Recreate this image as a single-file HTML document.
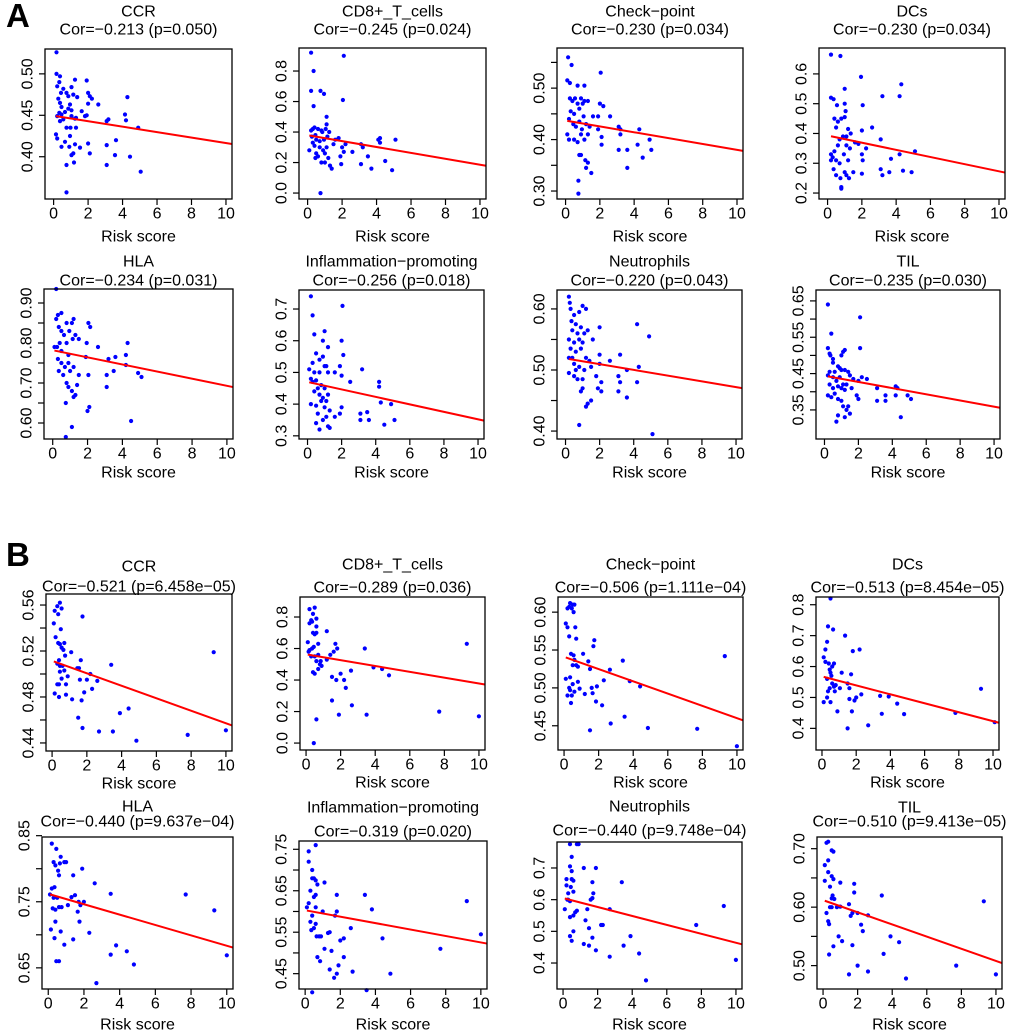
<!DOCTYPE html>
<html><head><meta charset="utf-8"><style>
html,body{margin:0;padding:0;background:#fff;}
svg{display:block;font-family:"Liberation Sans",Arial,sans-serif;}
</style></head>
<body>
<svg id="fig" width="1020" height="1035" viewBox="0 0 1020 1035" xmlns="http://www.w3.org/2000/svg">
<rect x="0" y="0" width="1020" height="1035" fill="#fff"/>
<text x="6" y="27" font-size="33" font-weight="bold">A</text>
<text x="6" y="566" font-size="33" font-weight="bold">B</text>
</svg>
<script>
// ---- data ----
const titles = ["CCR","CD8+_T_cells","Check−point","DCs","HLA","Inflammation−promoting","Neutrophils","TIL",
                "CCR","CD8+_T_cells","Check−point","DCs","HLA","Inflammation−promoting","Neutrophils","TIL"];
const corLabels = ["Cor=−0.213 (p=0.050)","Cor=−0.245 (p=0.024)","Cor=−0.230 (p=0.034)","Cor=−0.230 (p=0.034)",
  "Cor=−0.234 (p=0.031)","Cor=−0.256 (p=0.018)","Cor=−0.220 (p=0.043)","Cor=−0.235 (p=0.030)",
  "Cor=−0.521 (p=6.458e−05)","Cor=−0.289 (p=0.036)","Cor=−0.506 (p=1.111e−04)","Cor=−0.513 (p=8.454e−05)",
  "Cor=−0.440 (p=9.637e−04)","Cor=−0.319 (p=0.020)","Cor=−0.440 (p=9.748e−04)","Cor=−0.510 (p=9.413e−05)"];
const fitIntercept = [0.4495,0.379,0.437,0.393,0.782,0.470,0.519,0.444, 0.5115,0.563,0.541,0.568,0.762,0.603,0.605,0.612];
const fitSlope = [-0.0033,-0.0193,-0.0057,-0.0120,-0.0089,-0.0118,-0.0047,-0.0085, -0.00544,-0.0185,-0.00809,-0.01447,-0.00786,-0.00777,-0.0141,-0.0104];
const xTicks = [0,2,4,6,8,10];
const yTicks = [[0.40,0.45,0.50],[0,0.2,0.4,0.6,0.8],[0.30,0.35,0.40,0.45,0.50,0.55],[0.2,0.3,0.4,0.5,0.6],
  [0.60,0.65,0.70,0.75,0.80,0.85,0.90],[0.3,0.4,0.5,0.6,0.7],[0.40,0.45,0.50,0.55,0.60],[0.35,0.40,0.45,0.50,0.55,0.60,0.65],
  [0.44,0.46,0.48,0.50,0.52,0.54,0.56],[0,0.2,0.4,0.6,0.8],[0.45,0.50,0.55,0.60],[0.4,0.5,0.6,0.7,0.8],
  [0.65,0.70,0.75,0.80,0.85],[0.45,0.50,0.55,0.60,0.65,0.70,0.75],[0.4,0.5,0.6,0.7],[0.50,0.55,0.60,0.65,0.70]];
const yTickLabels = [["0.40","0.45","0.50"],["0.0","0.2","0.4","0.6","0.8"],["0.30","","0.40","","0.50",""],["0.2","0.3","0.4","0.5","0.6"],
  ["0.60","","0.70","","0.80","","0.90"],["0.3","0.4","0.5","0.6","0.7"],["0.40","","0.50","","0.60"],["0.35","","0.45","","0.55","","0.65"],
  ["0.44","","0.48","","0.52","","0.56"],["0.0","0.2","0.4","0.6","0.8"],["0.45","0.50","0.55","0.60"],["0.4","0.5","0.6","0.7","0.8"],
  ["0.65","","0.75","","0.85"],["0.45","","0.55","","0.65","","0.75"],["0.4","0.5","0.6","0.7"],["0.50","","0.60","","0.70"]];

const ptsA_CCR = [[0.17,0.526],[0.17,0.50],[0.37,0.497],[0.33,0.49],[0.21,0.485],[0.56,0.482],[0.43,0.477],[0.27,0.47],[0.37,0.465],[0.46,0.46],[0.33,0.453],[0.21,0.449],[0.46,0.451],[0.37,0.443],[0.56,0.445],[0.14,0.427],[0.21,0.422],[0.46,0.412],[0.75,0.435],[0.66,0.418],[0.75,0.39],[0.75,0.357],[0.85,0.458],[0.95,0.463],[0.85,0.473],[0.75,0.477],[1.04,0.484],[1.24,0.493],[1.14,0.475],[1.04,0.449],[0.98,0.435],[0.95,0.425],[0.91,0.412],[1.04,0.402],[1.14,0.404],[1.18,0.393],[1.24,0.415],[1.3,0.435],[1.3,0.447],[1.37,0.472],[1.53,0.411],[1.63,0.455],[1.82,0.449],[1.92,0.492],[2.0,0.477],[2.1,0.473],[2.22,0.47],[2.0,0.416],[2.1,0.404],[2.0,0.464],[2.59,0.463],[3.08,0.443],[3.18,0.445],[3.08,0.414],[3.08,0.39],[3.56,0.402],[3.62,0.42],[4.14,0.451],[4.2,0.444],[4.28,0.472],[4.43,0.40],[4.91,0.435],[5.05,0.382],[1.92,0.45],[1.24,0.446],[0.66,0.454],[1.04,0.456]];
const ptsA_CD8 = [[0.2,0.92],[0.35,0.80],[0.2,0.67],[0.75,0.67],[0.95,0.65],[0.35,0.57],[2.1,0.9],[2.05,0.61],[1.1,0.5],[0.1,0.28],[0.2,0.41],[0.3,0.42],[0.4,0.43],[0.45,0.38],[0.5,0.35],[0.3,0.33],[0.4,0.31],[0.5,0.26],[0.45,0.23],[0.6,0.24],[0.7,0.3],[0.8,0.2],[0.9,0.28],[0.85,0.4],[0.95,0.35],[1.0,0.26],[1.05,0.42],[1.1,0.45],[1.15,0.37],[1.1,0.3],[1.2,0.23],[1.0,0.2],[1.3,0.18],[1.4,0.16],[1.5,0.32],[1.25,0.4],[1.6,0.35],[1.8,0.36],[1.9,0.24],[1.95,0.19],[2.0,0.3],[2.1,0.27],[2.2,0.32],[2.6,0.27],[3.1,0.32],[3.2,0.3],[3.1,0.19],[3.5,0.24],[3.7,0.16],[4.1,0.35],[4.2,0.33],[4.2,0.36],[4.5,0.21],[4.9,0.15],[5.1,0.35],[0.75,0.0],[0.6,0.42],[0.7,0.34],[0.25,0.37],[0.8,0.41]];
const ptsA_Check = [[0.15,0.56],[0.35,0.545],[0.1,0.515],[0.25,0.51],[0.7,0.505],[1.1,0.505],[2.05,0.53],[0.25,0.48],[0.4,0.475],[0.55,0.48],[0.7,0.47],[0.9,0.48],[1.1,0.475],[1.3,0.475],[2.0,0.47],[2.2,0.465],[0.3,0.455],[0.5,0.45],[0.8,0.46],[1.0,0.47],[1.05,0.445],[1.6,0.445],[1.9,0.445],[2.6,0.445],[0.2,0.44],[0.45,0.43],[0.6,0.425],[0.8,0.435],[0.95,0.42],[1.2,0.43],[1.4,0.425],[1.9,0.42],[0.1,0.41],[0.2,0.4],[0.5,0.4],[0.7,0.395],[0.9,0.41],[1.1,0.4],[1.3,0.41],[2.1,0.39],[2.1,0.405],[0.8,0.37],[0.9,0.37],[1.15,0.36],[1.3,0.355],[1.5,0.335],[0.75,0.32],[0.75,0.295],[3.1,0.425],[3.2,0.42],[3.2,0.41],[3.1,0.38],[3.6,0.38],[3.6,0.345],[4.2,0.39],[4.3,0.42],[4.5,0.365],[4.9,0.4],[5.0,0.38],[1.2,0.345]];
const ptsA_DCs = [[0.2,0.665],[0.75,0.66],[0.2,0.52],[0.35,0.515],[0.55,0.495],[1.0,0.55],[1.0,0.5],[1.95,0.59],[2.05,0.495],[3.2,0.525],[4.2,0.525],[4.3,0.565],[0.4,0.45],[0.6,0.44],[0.8,0.45],[1.0,0.455],[0.5,0.42],[0.9,0.39],[1.1,0.39],[1.2,0.415],[1.35,0.4],[2.0,0.41],[2.6,0.42],[0.2,0.33],[0.3,0.32],[0.4,0.34],[0.6,0.36],[0.7,0.38],[0.5,0.31],[0.7,0.3],[0.95,0.33],[1.1,0.36],[1.3,0.35],[1.2,0.31],[1.6,0.37],[1.8,0.365],[2.0,0.33],[2.05,0.31],[2.25,0.35],[0.35,0.28],[0.5,0.26],[0.75,0.25],[0.8,0.22],[0.8,0.215],[1.0,0.27],[1.1,0.26],[1.25,0.25],[1.5,0.27],[2.0,0.265],[3.1,0.38],[3.1,0.28],[3.2,0.26],[3.6,0.27],[3.7,0.315],[4.2,0.33],[4.4,0.275],[4.9,0.27],[5.1,0.34],[0.2,0.31],[1.05,0.475]];
const ptsA_HLA = [[0.2,0.935],[0.3,0.87],[0.2,0.86],[0.5,0.875],[0.35,0.84],[0.5,0.83],[0.65,0.82],[0.8,0.85],[0.95,0.83],[1.1,0.85],[1.2,0.86],[1.15,0.81],[0.25,0.79],[0.4,0.8],[0.5,0.78],[0.8,0.8],[0.9,0.77],[1.3,0.82],[1.5,0.81],[0.3,0.76],[0.5,0.75],[0.7,0.74],[0.9,0.75],[1.0,0.73],[1.2,0.74],[1.5,0.72],[0.35,0.73],[0.6,0.72],[0.8,0.70],[0.9,0.69],[1.1,0.68],[1.3,0.67],[1.4,0.695],[1.2,0.665],[0.75,0.65],[1.1,0.59],[0.75,0.565],[1.9,0.765],[2.05,0.85],[2.15,0.84],[1.95,0.8],[2.05,0.72],[2.0,0.63],[2.1,0.64],[2.6,0.79],[3.1,0.72],[3.1,0.69],[3.2,0.76],[3.5,0.73],[3.6,0.765],[4.2,0.77],[4.3,0.8],[4.2,0.745],[4.5,0.605],[4.9,0.725],[5.1,0.715],[0.1,0.79]];
const ptsA_Infl = [[0.2,0.74],[0.3,0.68],[0.4,0.62],[2.05,0.71],[0.9,0.6],[1.0,0.63],[1.2,0.58],[2.0,0.6],[2.1,0.555],[0.5,0.56],[0.7,0.54],[0.9,0.55],[1.1,0.52],[0.3,0.53],[0.1,0.51],[0.4,0.5],[0.7,0.5],[1.0,0.52],[1.2,0.5],[1.6,0.5],[1.9,0.52],[3.2,0.51],[2.5,0.47],[0.2,0.48],[0.5,0.475],[0.3,0.47],[0.6,0.45],[0.8,0.46],[1.0,0.45],[1.2,0.43],[0.4,0.44],[0.7,0.43],[0.9,0.42],[1.1,0.41],[0.2,0.4],[0.5,0.395],[0.8,0.41],[1.0,0.39],[1.3,0.38],[1.6,0.36],[1.9,0.37],[2.0,0.39],[0.6,0.37],[0.9,0.35],[1.1,0.36],[1.2,0.33],[0.7,0.32],[1.3,0.325],[3.1,0.37],[3.1,0.35],[3.5,0.375],[3.6,0.35],[4.2,0.455],[4.2,0.47],[4.3,0.405],[4.5,0.335],[4.9,0.4],[5.1,0.35],[0.5,0.34],[2.0,0.49]];
const ptsA_Neut = [[0.2,0.62],[0.25,0.61],[0.3,0.6],[0.5,0.59],[1.0,0.605],[1.2,0.6],[0.35,0.58],[0.6,0.575],[0.8,0.595],[0.4,0.565],[0.7,0.56],[0.9,0.57],[1.1,0.56],[1.3,0.565],[2.0,0.57],[0.2,0.55],[0.5,0.545],[0.8,0.55],[1.0,0.545],[1.6,0.55],[4.2,0.575],[4.9,0.555],[0.3,0.535],[0.6,0.53],[0.9,0.535],[1.2,0.52],[1.4,0.515],[2.0,0.525],[2.6,0.515],[3.2,0.525],[0.2,0.52],[0.5,0.51],[0.8,0.505],[1.1,0.5],[2.0,0.51],[0.2,0.495],[0.5,0.49],[0.7,0.485],[1.0,0.485],[1.8,0.49],[2.1,0.48],[3.1,0.49],[3.2,0.48],[3.6,0.5],[4.3,0.505],[4.2,0.48],[0.9,0.465],[1.0,0.47],[1.2,0.44],[1.3,0.445],[1.5,0.45],[1.9,0.47],[2.1,0.465],[3.1,0.465],[3.6,0.455],[0.8,0.41],[5.1,0.395],[0.6,0.5],[1.5,0.505],[0.4,0.52]];
const ptsA_TIL = [[0.2,0.64],[2.1,0.605],[0.4,0.56],[0.2,0.52],[0.3,0.505],[0.5,0.49],[0.35,0.5],[1.0,0.5],[1.1,0.51],[1.2,0.515],[2.1,0.52],[0.5,0.48],[0.8,0.47],[0.9,0.465],[1.0,0.46],[1.2,0.46],[1.4,0.455],[1.5,0.445],[1.7,0.435],[2.0,0.43],[2.2,0.44],[2.5,0.435],[0.2,0.445],[0.3,0.455],[0.5,0.44],[0.7,0.43],[0.9,0.44],[1.1,0.42],[1.3,0.42],[0.3,0.42],[0.5,0.41],[0.8,0.415],[1.0,0.41],[1.2,0.405],[1.6,0.41],[0.2,0.39],[0.4,0.385],[0.6,0.395],[0.8,0.38],[1.0,0.375],[1.1,0.36],[1.3,0.35],[1.4,0.36],[0.8,0.335],[1.5,0.34],[1.2,0.33],[0.7,0.318],[1.9,0.39],[2.0,0.38],[3.1,0.41],[3.1,0.375],[3.6,0.375],[3.6,0.39],[4.2,0.415],[4.3,0.41],[4.2,0.39],[4.5,0.33],[4.9,0.39],[5.1,0.38],[0.6,0.455]];
const ptsB_CCR = [[0.15,0.555],[0.3,0.559],[0.45,0.562],[0.35,0.552],[0.55,0.557],[0.1,0.544],[0.5,0.539],[0.2,0.532],[0.35,0.527],[0.45,0.526],[0.7,0.527],[0.55,0.523],[0.65,0.521],[0.75,0.516],[1.1,0.519],[1.75,0.55],[0.4,0.512],[0.3,0.509],[0.45,0.507],[0.6,0.507],[0.7,0.503],[0.45,0.502],[0.9,0.498],[0.55,0.496],[0.3,0.491],[0.4,0.491],[0.8,0.491],[0.15,0.483],[0.4,0.48],[0.8,0.482],[1.15,0.478],[1.45,0.505],[1.55,0.505],[1.65,0.512],[1.6,0.495],[2.0,0.495],[2.2,0.5],[1.85,0.484],[2.3,0.487],[2.6,0.494],[3.4,0.508],[1.7,0.477],[1.5,0.462],[1.75,0.453],[2.7,0.45],[3.5,0.45],[3.9,0.466],[4.4,0.47],[4.85,0.442],[7.8,0.447],[9.3,0.519],[10.0,0.451]];
const ptsB_CD8 = [[0.2,0.85],[0.5,0.86],[0.4,0.82],[0.35,0.77],[0.2,0.76],[0.3,0.78],[0.6,0.79],[0.6,0.74],[0.4,0.7],[0.5,0.69],[0.6,0.7],[1.2,0.71],[0.1,0.64],[0.7,0.63],[0.2,0.59],[0.35,0.6],[0.45,0.61],[0.15,0.58],[0.3,0.55],[0.5,0.55],[0.7,0.56],[0.85,0.52],[0.6,0.52],[0.9,0.49],[0.8,0.5],[0.7,0.47],[0.4,0.45],[0.5,0.44],[1.2,0.53],[1.4,0.56],[1.6,0.58],[1.7,0.63],[1.8,0.6],[1.5,0.42],[1.75,0.4],[2.0,0.44],[2.2,0.4],[2.3,0.35],[2.6,0.46],[3.4,0.6],[3.9,0.48],[4.4,0.47],[4.8,0.43],[1.5,0.27],[2.65,0.24],[1.9,0.18],[3.5,0.18],[0.6,0.15],[0.45,0.0],[7.7,0.2],[9.3,0.63],[10.0,0.17]];
const ptsB_Check = [[0.1,0.585],[0.2,0.605],[0.3,0.607],[0.35,0.612],[0.5,0.61],[0.6,0.61],[0.45,0.605],[0.55,0.6],[0.2,0.58],[0.65,0.58],[0.3,0.568],[0.7,0.565],[0.4,0.545],[0.55,0.543],[0.6,0.537],[0.5,0.53],[0.7,0.53],[0.8,0.528],[0.1,0.512],[0.35,0.514],[0.5,0.505],[0.3,0.5],[0.35,0.497],[0.8,0.508],[0.9,0.499],[0.2,0.49],[0.45,0.49],[0.4,0.48],[0.6,0.495],[1.1,0.545],[1.4,0.535],[1.2,0.492],[1.5,0.525],[1.6,0.5],[1.7,0.555],[1.75,0.563],[1.65,0.493],[1.9,0.502],[1.85,0.482],[2.3,0.51],[2.2,0.477],[2.65,0.524],[3.4,0.536],[3.8,0.509],[4.4,0.502],[1.5,0.444],[2.7,0.453],[3.5,0.462],[4.85,0.447],[7.7,0.446],[9.3,0.542],[10.0,0.423]];
const ptsB_DCs = [[0.5,0.82],[0.35,0.73],[0.65,0.72],[0.3,0.68],[0.2,0.655],[0.1,0.63],[0.2,0.615],[0.4,0.61],[0.6,0.6],[0.45,0.59],[0.5,0.58],[0.7,0.61],[0.55,0.57],[0.3,0.56],[0.6,0.545],[0.8,0.54],[0.7,0.535],[0.35,0.52],[0.45,0.53],[0.75,0.52],[0.1,0.485],[0.3,0.5],[0.5,0.485],[1.05,0.53],[1.15,0.58],[0.9,0.455],[1.35,0.7],[1.5,0.545],[1.7,0.575],[1.8,0.65],[2.2,0.655],[1.6,0.53],[1.6,0.495],[1.9,0.49],[2.0,0.5],[2.3,0.51],[1.75,0.455],[1.5,0.4],[2.7,0.41],[3.4,0.505],[3.5,0.447],[3.9,0.503],[4.4,0.48],[4.8,0.446],[7.8,0.45],[9.3,0.528],[10.1,0.42]];
const ptsB_HLA = [[0.2,0.838],[0.45,0.83],[0.3,0.81],[0.4,0.805],[0.55,0.797],[0.7,0.818],[0.65,0.808],[0.9,0.81],[1.0,0.81],[0.6,0.79],[0.2,0.77],[0.35,0.772],[0.5,0.756],[0.3,0.756],[0.6,0.742],[0.75,0.742],[0.4,0.738],[1.3,0.757],[1.5,0.76],[1.4,0.79],[1.9,0.8],[1.7,0.75],[2.0,0.75],[1.8,0.745],[1.65,0.735],[1.75,0.72],[2.6,0.778],[3.5,0.762],[0.1,0.761],[0.15,0.708],[0.4,0.72],[0.7,0.705],[0.35,0.695],[0.9,0.685],[1.4,0.693],[2.3,0.703],[0.45,0.66],[0.6,0.66],[3.5,0.67],[3.8,0.684],[4.4,0.675],[4.8,0.655],[2.7,0.627],[7.7,0.761],[9.3,0.737],[10.0,0.669],[0.25,0.74],[1.1,0.745]];
const ptsB_Infl = [[0.2,0.745],[0.6,0.76],[0.2,0.72],[0.4,0.7],[0.5,0.68],[0.6,0.675],[0.4,0.68],[0.7,0.665],[1.1,0.67],[0.6,0.64],[0.3,0.65],[0.5,0.635],[0.2,0.62],[0.1,0.61],[0.6,0.61],[1.0,0.6],[0.4,0.59],[0.3,0.575],[0.6,0.57],[0.5,0.56],[0.35,0.555],[0.8,0.54],[0.65,0.54],[0.9,0.54],[1.4,0.55],[1.3,0.548],[1.8,0.64],[1.8,0.6],[1.7,0.59],[2.0,0.53],[2.2,0.535],[2.6,0.56],[1.1,0.51],[1.5,0.505],[2.2,0.49],[0.7,0.49],[0.85,0.48],[1.4,0.46],[1.9,0.47],[1.8,0.45],[1.65,0.44],[2.7,0.455],[3.4,0.64],[3.8,0.605],[4.4,0.535],[4.85,0.45],[3.5,0.41],[0.4,0.405],[7.7,0.51],[9.2,0.625],[10.0,0.545]];
const ptsB_Neut = [[0.4,0.775],[0.8,0.775],[0.9,0.775],[0.5,0.735],[0.4,0.705],[0.5,0.69],[1.2,0.7],[1.9,0.7],[0.2,0.665],[0.5,0.665],[0.6,0.66],[0.2,0.645],[0.45,0.64],[0.3,0.62],[0.6,0.625],[1.7,0.655],[1.75,0.62],[1.6,0.6],[1.7,0.605],[3.4,0.655],[0.3,0.6],[0.4,0.595],[0.1,0.57],[0.8,0.565],[0.7,0.56],[1.4,0.57],[0.4,0.545],[0.6,0.55],[2.7,0.57],[1.3,0.535],[2.2,0.52],[2.3,0.52],[1.5,0.51],[1.7,0.48],[0.4,0.485],[0.6,0.5],[0.5,0.47],[1.2,0.46],[1.5,0.455],[1.9,0.44],[2.7,0.42],[3.5,0.455],[3.9,0.485],[4.4,0.43],[4.8,0.345],[7.7,0.52],[9.3,0.58],[10.0,0.41],[0.25,0.6]];
const ptsB_TIL = [[0.2,0.71],[0.3,0.712],[0.5,0.697],[0.6,0.695],[0.3,0.68],[0.1,0.672],[0.3,0.66],[0.5,0.653],[0.6,0.648],[0.1,0.645],[0.4,0.635],[0.55,0.62],[0.5,0.615],[0.65,0.614],[1.0,0.642],[1.8,0.64],[1.8,0.625],[0.4,0.6],[0.5,0.6],[0.8,0.6],[1.0,0.601],[0.2,0.59],[0.3,0.576],[0.35,0.571],[1.5,0.605],[1.7,0.59],[1.6,0.585],[2.0,0.59],[2.6,0.586],[2.2,0.57],[2.3,0.559],[3.4,0.62],[0.6,0.533],[0.9,0.55],[1.1,0.542],[1.7,0.535],[2.0,0.5],[0.35,0.519],[1.5,0.485],[2.6,0.49],[3.5,0.52],[3.9,0.55],[4.4,0.54],[4.8,0.478],[7.7,0.5],[9.3,0.61],[10.0,0.485]];
const allPoints = [ptsA_CCR,ptsA_CD8,ptsA_Check,ptsA_DCs,ptsA_HLA,ptsA_Infl,ptsA_Neut,ptsA_TIL,
                   ptsB_CCR,ptsB_CD8,ptsB_Check,ptsB_DCs,ptsB_HLA,ptsB_Infl,ptsB_Neut,ptsB_TIL];
const yLimits = [[0.349,0.530],[-0.039,0.951],[0.2845,0.578],[0.18,0.687],[0.56,0.935],[0.29,0.76],[0.387,0.631],[0.27,0.68],
                 [0.433,0.5696],[-0.044,0.927],[0.418,0.62],[0.33,0.825],[0.618,0.848],[0.413,0.77],[0.318,0.782],[0.46,0.72]];

// ---- layout (pixel geometry, not data) ----
const boxes = [[45,49,232,199],[299,48,486,199],[557,48,743,199],[819,48,1005,199],
  [44,289,233,439],[299,290,484,439],[557,290,742,439],[816,290,1000,439],
  [46,594,232,751],[300,597,485,750],[558,597,743,750],[816,597,999,750],
  [42,837,233,989],[299,841,487,989],[557,842,742,989],[817,837,1002,989]];
const titleYs = [[12,30],[12,30],[12,30],[12,30],[262,281],[262,281],[262,281],[262,281],
  [567,587],[565,588],[565,588],[565,588],[807,822],[808,832],[807,831],[808,822]];
const xlabOffset = [38,38,38,38,34,34,34,34,33,33,33,33,36,36,36,36];

const NS = "http://www.w3.org/2000/svg";
const svg = document.getElementById('fig');
function mk(tag, attrs, parent){
  const e = document.createElementNS(NS, tag);
  for (const k in attrs) e.setAttribute(k, attrs[k]);
  parent.appendChild(e);
  return e;
}
function slug(s){ return s.toLowerCase().replace(/[^a-z0-9]+/g,'-').replace(/^-|-$/g,''); }

for (let i = 0; i < 16; i++) {
  const [L,T,R,B] = boxes[i];
  const xlim = i < 8 ? [-0.5,10.35] : [-0.35,10.35];
  const ylim = yLimits[i];
  const sx = v => L + (v - xlim[0]) / (xlim[1] - xlim[0]) * (R - L);
  const sy = v => B - (v - ylim[0]) / (ylim[1] - ylim[0]) * (B - T);
  const cx = (L + R) / 2;
  const pname = (i < 8 ? 'a-' : 'b-') + slug(titles[i]);

  const g = mk('g', {}, svg);
  
  

  const t1 = mk('text', {x:cx, y:titleYs[i][0], 'font-size':16, 'text-anchor':'middle', 'dominant-baseline':'central'}, g);
  t1.textContent = titles[i];
  
  
  const t2 = mk('text', {x:cx, y:titleYs[i][1], 'font-size':16, 'text-anchor':'middle', 'dominant-baseline':'central'}, g);
  t2.textContent = corLabels[i];
  
  

  const pg = mk('g', {fill:'#0000ff'}, g);
  
  
  for (const p of allPoints[i]) {
    const c = mk('circle', {cx:sx(p[0]).toFixed(1), cy:sy(p[1]).toFixed(1), r:2.1}, pg);
    
    
  }
  let xmin = Infinity;
  for (const p of allPoints[i]) xmin = Math.min(xmin, p[0]);
  const x2 = xlim[1];
  const ln = mk('line', {x1:sx(xmin), y1:sy(fitIntercept[i] + fitSlope[i]*xmin), x2:sx(x2), y2:sy(fitIntercept[i] + fitSlope[i]*x2), stroke:'#ff0000', 'stroke-width':2}, g);
  
  

  const bx = mk('rect', {x:L, y:T, width:R-L, height:B-T, fill:'none', stroke:'#000', 'stroke-width':1.3}, g);
  
  

  const xg = mk('g', {}, g);
  
  
  for (const v of xTicks) {
    const X = sx(v);
    mk('line', {x1:X, y1:B, x2:X, y2:B+6, stroke:'#000', 'stroke-width':1.2}, xg);
    const tl = mk('text', {x:X, y:B+15, 'font-size':16, 'text-anchor':'middle', 'dominant-baseline':'central'}, xg);
    tl.textContent = String(v);
    
    
  }
  const xl = mk('text', {x:cx, y:B+xlabOffset[i], 'font-size':16, 'text-anchor':'middle', 'dominant-baseline':'central'}, g);
  xl.textContent = 'Risk score';
  
  

  const yg = mk('g', {}, g);
  
  
  yTicks[i].forEach((v, k) => {
    const Y = sy(v);
    mk('line', {x1:L, y1:Y, x2:L-6, y2:Y, stroke:'#000', 'stroke-width':1.2}, yg);
    const lab = yTickLabels[i][k];
    if (lab) {
      const tx = L - 17;
      const tl = mk('text', {x:tx, y:Y, 'font-size':16, 'text-anchor':'middle', 'dominant-baseline':'central', transform:`rotate(-90 ${tx} ${Y})`}, yg);
      tl.textContent = lab;
      
      
    }
  });
}
</script>
</body></html>
